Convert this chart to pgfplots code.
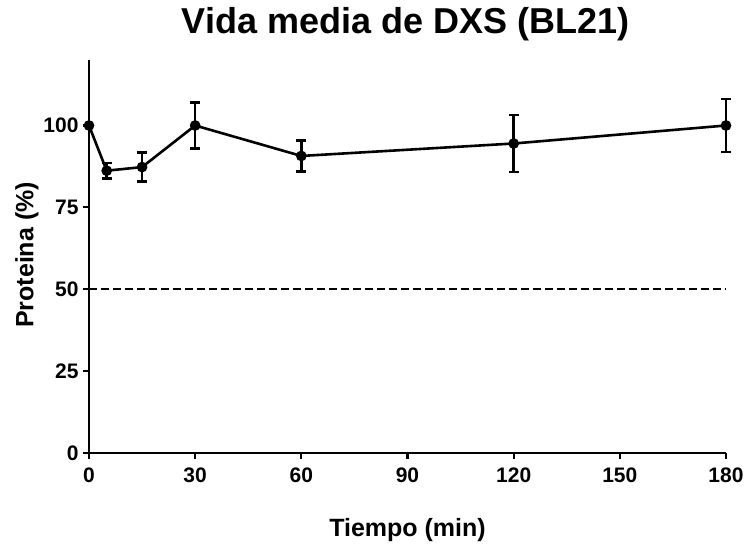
\documentclass[border=0pt]{standalone}
\usepackage{pgfplots}
\pgfplotsset{compat=1.18}
\usepackage{fontspec}
\setmainfont{Liberation Sans}
\begin{document}
\begin{tikzpicture}
\path[use as bounding box] (-89bp,-93bp) rectangle (659bp,453bp);
\begin{axis}[
  scale only axis, width=637bp, height=393bp,
  xmin=0, xmax=180, ymin=0, ymax=120,
  axis x line=bottom, axis y line=left,
  axis line style={-, line width=2.6bp},
  xtick={0,30,60,90,120,150,180},
  ytick={0,25,50,75,100},
  tick align=outside, major tick length=6bp,
  tick style={line width=2.2bp, black},
  /pgf/number format/assume math mode=true,
  tick label style={font=\fontsize{21bp}{23bp}\selectfont\bfseries},
  xticklabel style={yshift=-5bp},
  yticklabel style={xshift=-1bp},
  xlabel={Tiempo (min)}, ylabel={Proteina (\%)},
  label style={font=\fontsize{25bp}{27bp}\selectfont\bfseries},
  xlabel style={at={(axis description cs:0.5,-0.195)}, anchor=center},
  ylabel style={at={(axis description cs:-0.0973,0.504)}, anchor=center},
  title={Vida media de DXS (BL21)},
  title style={font=\fontsize{36bp}{38bp}\selectfont\bfseries, at={(axis description cs:0.497,1.052)}, anchor=base},
  clip=false,
]
\addplot[black, line width=2bp, dash pattern=on 8bp off 4bp] coordinates {(0,50) (180,50)};
\addplot[black, line width=2.6bp, mark=*, mark size=4bp,
  error bars/.cd, y dir=both, y explicit,
  error bar style={line width=2.6bp, black},
  error mark options={rotate=90, mark size=5bp, line width=2.6bp}]
  coordinates {
  (0,100) +- (0,0)
  (5,86.2) +- (0,2.4)
  (15,87.3) +- (0,4.4)
  (30,100) +- (0,7)
  (60,90.7) +- (0,4.8)
  (120,94.5) +- (0,8.7)
  (180,100) +- (0,8.1)
  };
\end{axis}
\end{tikzpicture}
\end{document}
